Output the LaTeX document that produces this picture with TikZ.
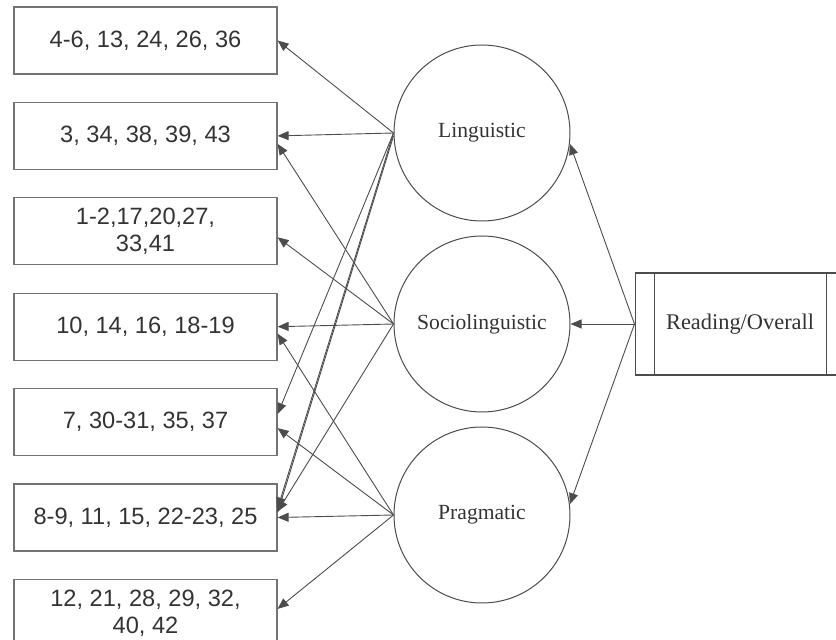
\documentclass[tikz,border=0pt]{standalone}
\usepackage{fontspec}
\setmainfont{Liberation Serif}
\setsansfont{Liberation Sans}
\usetikzlibrary{arrows.meta,positioning}

\begin{document}
\begin{tikzpicture}[
  x=0.5pt,y=-0.5pt,
  node distance=13.6pt,
  item/.style={draw=black!55,line width=0.6pt,minimum width=131.5pt,minimum height=33.5pt,inner sep=0pt,align=center,text=black!80,font=\sffamily\fontsize{11.8}{13.4}\selectfont},
  factor/.style={draw=black!70,circle,minimum size=88pt,inner sep=0pt,line width=0.5pt,text=black!80,font=\fontsize{10.8}{12}\selectfont},
  overall/.style={draw=black!70,line width=0.6pt,minimum width=105pt,minimum height=51pt,inner sep=0pt,text=black!80,font=\fontsize{11.2}{13}\selectfont,
    path picture={\draw[black!70,line width=0.6pt]
      ([xshift=9.5pt]path picture bounding box.north west) -- ([xshift=9.5pt]path picture bounding box.south west)
      ([xshift=-9.5pt]path picture bounding box.north east) -- ([xshift=-9.5pt]path picture bounding box.south east);}},
  arr/.style={-{Triangle[length=5.5pt,width=4.5pt]},draw=black!70,line width=0.45pt}
]
\useasboundingbox (0,0) rectangle (836,640);
\node[item] (b1) at (145.5,40.5) {4-6, 13, 24, 26, 36};
\node[item,below=of b1] (b2) {3, 34, 38, 39, 43};
\node[item,below=of b2] (b3) {1-2,17,20,27,\\33,41};
\node[item,below=of b3] (b4) {10, 14, 16, 18-19};
\node[item,below=of b4] (b5) {7, 30-31, 35, 37};
\node[item,below=of b5] (b6) {8-9, 11, 15, 22-23, 25};
\node[item,below=of b6] (b7) {12, 21, 28, 29, 32,\\40, 42};
\node[factor] (ling) at (482,133) {Linguistic};
\node[factor,below=7pt of ling] (soc) {Sociolinguistic};
\node[factor,below=7pt of soc] (prag) {Pragmatic};
\node[overall,right=32pt of soc] (read) {Reading/Overall};
\draw[arr] (read.west) -- (ling.-7);
\draw[arr] (read.west) -- (soc.east);
\draw[arr] (read.west) -- (prag.7);
\draw[arr] (ling.west) -- (b1.east);
\draw[arr] (ling.west) -- (b2.east);
\draw[arr] (ling.west) -- ([yshift=4pt]b5.east);
\draw[arr] (ling.west) -- ([yshift=4.5pt]b6.east);
\draw[arr] ([yshift=-1.5pt]ling.west) -- ([yshift=2.5pt]b6.east);
\draw[arr] (soc.west) -- ([yshift=-4pt]b2.east);
\draw[arr] (soc.west) -- ([yshift=-3pt]b3.east);
\draw[arr] (soc.west) -- (b4.east);
\draw[arr] (soc.west) -- ([yshift=3pt]b6.east);
\draw[arr] (prag.west) -- ([yshift=-3.5pt]b4.east);
\draw[arr] (prag.west) -- ([yshift=-3pt]b5.east);
\draw[arr] (prag.west) -- (b6.east);
\draw[arr] (prag.west) -- ([yshift=2pt]b7.east);
\end{tikzpicture}
\end{document}
